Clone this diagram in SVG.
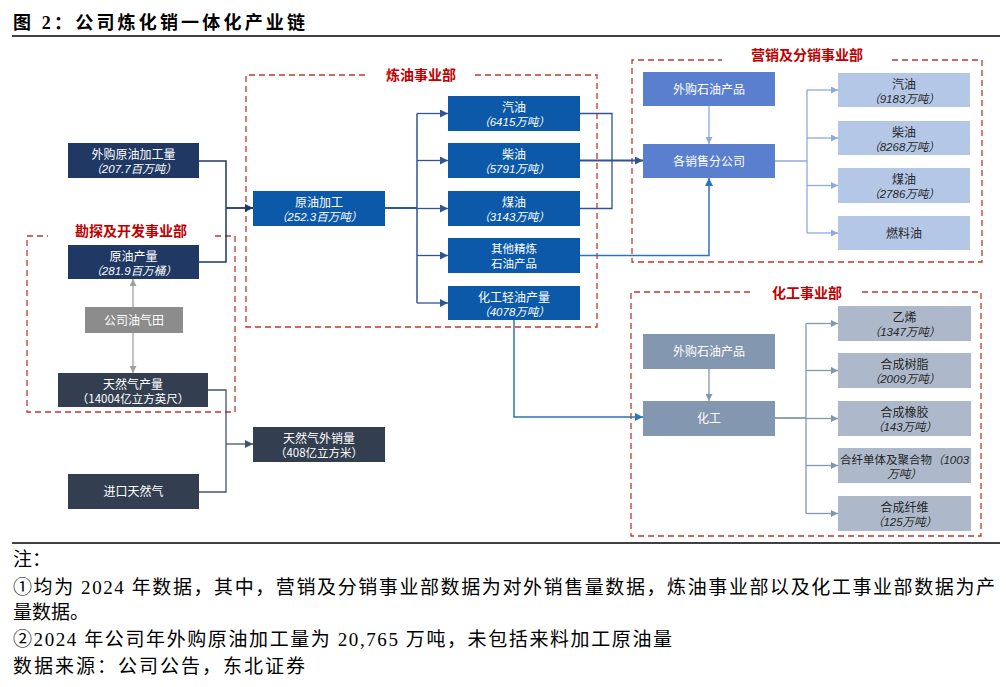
<svg xmlns="http://www.w3.org/2000/svg" width="1006" height="687" viewBox="0 0 1006 687">
<defs>
<style>
.t{font-family:"Noto Sans CJK SC","Liberation Sans",sans-serif;font-size:12px;text-anchor:middle;fill:#fff}
.n{font-family:"Liberation Sans","Noto Sans CJK SC",sans-serif;font-size:11.5px;font-style:italic;text-anchor:middle;fill:#fff}
.d{fill:#262626}
.sec{font-family:"Noto Sans CJK SC",sans-serif;font-size:14px;font-weight:bold;fill:#C00000;text-anchor:middle}
.dash{fill:none;stroke:#C0392B;stroke-width:1.3;stroke-dasharray:6,4}
.note{font-family:"Liberation Serif","Noto Sans CJK SC",serif;font-size:19px;fill:#000}
.navy{fill:#203864}.slate{fill:#333F50}.gray{fill:#8C8C8C}.blue{fill:#0C59A9}
.mk{fill:#5B7FCF}.lb{fill:#B4C7E7}.cg{fill:#8497B0}.cl{fill:#ADB9CA}
#connectors path{fill:none}
</style>
<marker id="a-navy" viewBox="0 0 10 10" refX="10" refY="5" markerWidth="8" markerHeight="8" markerUnits="userSpaceOnUse" orient="auto"><path d="M0,0 L10,5 L0,10 z" fill="#203864"/></marker>
<marker id="a-gray" viewBox="0 0 10 10" refX="10" refY="5" markerWidth="7" markerHeight="7" markerUnits="userSpaceOnUse" orient="auto"><path d="M0,0 L10,5 L0,10 z" fill="#A0A0A0"/></marker>
<marker id="a-slate" viewBox="0 0 10 10" refX="10" refY="5" markerWidth="8" markerHeight="8" markerUnits="userSpaceOnUse" orient="auto"><path d="M0,0 L10,5 L0,10 z" fill="#44546A"/></marker>
<marker id="a-blue" viewBox="0 0 10 10" refX="10" refY="5" markerWidth="8" markerHeight="8" markerUnits="userSpaceOnUse" orient="auto"><path d="M0,0 L10,5 L0,10 z" fill="#2F5597"/></marker>
<marker id="a-mid" viewBox="0 0 10 10" refX="10" refY="5" markerWidth="8" markerHeight="8" markerUnits="userSpaceOnUse" orient="auto"><path d="M0,0 L10,5 L0,10 z" fill="#2E75B6"/></marker>
<marker id="a-light" viewBox="0 0 10 10" refX="10" refY="5" markerWidth="7" markerHeight="7" markerUnits="userSpaceOnUse" orient="auto"><path d="M0,0 L10,5 L0,10 z" fill="#8FAADC"/></marker>
<marker id="a-chem" viewBox="0 0 10 10" refX="10" refY="5" markerWidth="7" markerHeight="7" markerUnits="userSpaceOnUse" orient="auto"><path d="M0,0 L10,5 L0,10 z" fill="#8497B0"/></marker>
</defs>
<rect width="1006" height="687" fill="#fff"/>

<!-- title -->
<text x="13" y="29" font-family="'Liberation Serif','Noto Sans CJK SC',serif" font-size="18" font-weight="bold" textLength="292" lengthAdjust="spacing">图 2：公司炼化销一体化产业链</text>
<line x1="12" y1="36" x2="1000" y2="36" stroke="#000" stroke-width="1.5"/>

<!-- department frames -->
<g id="dept-exploration">
<path class="dash" d="M215,236 H235 V412 H27 V236 H48"/>
<text class="sec" x="131" y="236">勘探及开发事业部</text>
</g>
<g id="dept-refining">
<path class="dash" d="M475,75 H597 V327 H246 V75 H367"/>
<text class="sec" x="421" y="80">炼油事业部</text>
</g>
<g id="dept-marketing">
<path class="dash" d="M892,60 H982 V262 H632 V60 H722"/>
<text class="sec" x="807" y="60">营销及分销事业部</text>
</g>
<g id="dept-chemical">
<path class="dash" d="M862,292 H981 V536 H631 V292 H751"/>
<text class="sec" x="807" y="298">化工事业部</text>
</g>

<!-- connectors -->
<g id="connectors">
<path d="M199,161 H226 V262 H199" stroke="#203864" stroke-width="1.5"/>
<path d="M226,208 H253" stroke="#203864" stroke-width="1.8" marker-end="url(#a-navy)"/>
<path d="M133,307 V279" stroke="#A0A0A0" stroke-width="1.3" marker-end="url(#a-gray)"/>
<path d="M133,333 V373" stroke="#A0A0A0" stroke-width="1.3" marker-end="url(#a-gray)"/>
<path d="M208,390 H226 V492 H199" stroke="#44546A" stroke-width="1.3"/>
<path d="M226,444 H253" stroke="#44546A" stroke-width="1.3" marker-end="url(#a-slate)"/>
<path d="M385,208 H417" stroke="#2F5597" stroke-width="2"/>
<path d="M417,113.5 V303" stroke="#2F5597" stroke-width="1.5"/>
<path d="M417,113.5 H448" stroke="#2F5597" stroke-width="1.3" marker-end="url(#a-blue)"/>
<path d="M417,160.5 H448" stroke="#2F5597" stroke-width="1.3" marker-end="url(#a-blue)"/>
<path d="M417,208.5 H448" stroke="#2F5597" stroke-width="1.3" marker-end="url(#a-blue)"/>
<path d="M417,255.5 H448" stroke="#2F5597" stroke-width="1.3" marker-end="url(#a-blue)"/>
<path d="M417,303 H448" stroke="#2F5597" stroke-width="1.3" marker-end="url(#a-blue)"/>
<path d="M580,113.5 H612 V208.5 H580" stroke="#2F5597" stroke-width="1.3"/>
<path d="M580,160.5 H643" stroke="#2F5597" stroke-width="2" marker-end="url(#a-blue)"/>
<path d="M580,255.5 H709 V178" stroke="#2E75B6" stroke-width="1.5" marker-end="url(#a-mid)"/>
<path d="M709,106 V144" stroke="#8FAADC" stroke-width="1.3" marker-end="url(#a-light)"/>
<path d="M775,161 H807" stroke="#8FAADC" stroke-width="1.5"/>
<path d="M807,90 V233" stroke="#8FAADC" stroke-width="1.3"/>
<path d="M807,90 H838" stroke="#8FAADC" stroke-width="1.3" marker-end="url(#a-light)"/>
<path d="M807,138 H838" stroke="#8FAADC" stroke-width="1.3" marker-end="url(#a-light)"/>
<path d="M807,185.5 H838" stroke="#8FAADC" stroke-width="1.3" marker-end="url(#a-light)"/>
<path d="M807,233 H838" stroke="#8FAADC" stroke-width="1.3" marker-end="url(#a-light)"/>
<path d="M514,320 V417 H643" stroke="#2E75B6" stroke-width="1.5" marker-end="url(#a-mid)"/>
<path d="M709,369 V401" stroke="#8497B0" stroke-width="1.3" marker-end="url(#a-chem)"/>
<path d="M775,418 H806" stroke="#8497B0" stroke-width="1.8"/>
<path d="M806,323.5 V513.5" stroke="#8497B0" stroke-width="1.3"/>
<path d="M806,323.5 H838" stroke="#8497B0" stroke-width="1.3" marker-end="url(#a-chem)"/>
<path d="M806,370.5 H838" stroke="#8497B0" stroke-width="1.3" marker-end="url(#a-chem)"/>
<path d="M806,418.5 H838" stroke="#8497B0" stroke-width="1.3" marker-end="url(#a-chem)"/>
<path d="M806,465.5 H838" stroke="#8497B0" stroke-width="1.3" marker-end="url(#a-chem)"/>
<path d="M806,513.5 H838" stroke="#8497B0" stroke-width="1.3" marker-end="url(#a-chem)"/>
</g>

<!-- left nodes -->
<g id="n-purchased-crude"><rect class="navy" x="68" y="143" width="131" height="35"/><text class="t" x="133.5" y="159">外购原油加工量</text><text class="n" x="133.5" y="173">（207.7百万吨）</text></g>
<g id="n-crude-output"><rect class="navy" x="68" y="245" width="131" height="34"/><text class="t" x="133.5" y="261">原油产量</text><text class="n" x="133.5" y="275">（281.9百万桶）</text></g>
<g id="n-oilfield"><rect class="gray" x="85" y="307" width="98" height="26"/><text class="t" x="134" y="324.5">公司油气田</text></g>
<g id="n-gas-output"><rect class="slate" x="58" y="373" width="150" height="34"/><text class="t" x="133" y="389">天然气产量</text><text class="t" x="133" y="403" style="font-size:11.5px">（14004亿立方英尺）</text></g>
<g id="n-gas-import"><rect class="slate" x="68" y="474" width="131" height="35"/><text class="t" x="133.5" y="496">进口天然气</text></g>
<g id="n-gas-sales"><rect class="slate" x="253" y="427" width="132" height="35"/><text class="t" x="319" y="443">天然气外销量</text><text class="t" x="319" y="457" style="font-size:11.5px">（408亿立方米）</text></g>

<!-- refining -->
<g id="n-crude-processing"><rect class="blue" x="253" y="191" width="132" height="35"/><text class="t" x="319" y="207">原油加工</text><text class="n" x="319" y="221">（252.3百万吨）</text></g>
<g id="n-ref-gasoline"><rect class="blue" x="448" y="96" width="132" height="35"/><text class="t" x="514" y="112">汽油</text><text class="n" x="514" y="126">（6415万吨）</text></g>
<g id="n-ref-diesel"><rect class="blue" x="448" y="143" width="132" height="35"/><text class="t" x="514" y="159">柴油</text><text class="n" x="514" y="173">（5791万吨）</text></g>
<g id="n-ref-kerosene"><rect class="blue" x="448" y="191" width="132" height="35"/><text class="t" x="514" y="207">煤油</text><text class="n" x="514" y="221">（3143万吨）</text></g>
<g id="n-ref-other"><rect class="blue" x="448" y="238" width="132" height="35"/><text class="t" x="514" y="253" style="font-size:11.5px">其他精炼</text><text class="t" x="514" y="268" style="font-size:11.5px">石油产品</text></g>
<g id="n-ref-naphtha"><rect class="blue" x="448" y="286" width="132" height="34"/><text class="t" x="514" y="302">化工轻油产量</text><text class="n" x="514" y="316">（4078万吨）</text></g>

<!-- marketing -->
<g id="n-mkt-purchased"><rect class="mk" x="643" y="72" width="132" height="34"/><text class="t" x="709" y="93.5">外购石油产品</text></g>
<g id="n-mkt-branches"><rect class="mk" x="643" y="144" width="132" height="34"/><text class="t" x="709" y="165.5">各销售分公司</text></g>
<g id="n-mkt-gasoline"><rect class="lb" x="838" y="73" width="132" height="34"/><text class="t d" x="904" y="89">汽油</text><text class="n d" x="904" y="103">（9183万吨）</text></g>
<g id="n-mkt-diesel"><rect class="lb" x="838" y="121" width="132" height="34"/><text class="t d" x="904" y="137">柴油</text><text class="n d" x="904" y="151">（8268万吨）</text></g>
<g id="n-mkt-kerosene"><rect class="lb" x="838" y="168" width="132" height="35"/><text class="t d" x="904" y="184">煤油</text><text class="n d" x="904" y="198">（2786万吨）</text></g>
<g id="n-mkt-fueloil"><rect class="lb" x="838" y="216" width="132" height="34"/><text class="t d" x="904" y="237.5">燃料油</text></g>

<!-- chemical -->
<g id="n-chem-purchased"><rect class="cg" x="643" y="334" width="132" height="35"/><text class="t" x="709" y="356">外购石油产品</text></g>
<g id="n-chem"><rect class="cg" x="643" y="401" width="132" height="35"/><text class="t" x="709" y="423">化工</text></g>
<g id="n-chem-ethylene"><rect class="cl" x="838" y="306" width="133" height="35"/><text class="t d" x="904.5" y="322">乙烯</text><text class="n d" x="904.5" y="336">（1347万吨）</text></g>
<g id="n-chem-resin"><rect class="cl" x="838" y="353" width="133" height="35"/><text class="t d" x="904.5" y="369">合成树脂</text><text class="n d" x="904.5" y="383">（2009万吨）</text></g>
<g id="n-chem-rubber"><rect class="cl" x="838" y="401" width="133" height="35"/><text class="t d" x="904.5" y="417">合成橡胶</text><text class="n d" x="904.5" y="431">（143万吨）</text></g>
<g id="n-chem-monomer"><rect class="cl" x="838" y="448" width="133" height="35"/><text class="t d" x="904.5" y="464" style="font-size:11.5px">合纤单体及聚合物<tspan style="font-family:'Liberation Sans','Noto Sans CJK SC',sans-serif;font-style:italic">（1003</tspan></text><text class="n d" x="904.5" y="478">万吨）</text></g>
<g id="n-chem-fiber"><rect class="cl" x="838" y="496" width="133" height="35"/><text class="t d" x="904.5" y="512">合成纤维</text><text class="n d" x="904.5" y="526">（125万吨）</text></g>

<!-- notes -->
<line x1="12" y1="543" x2="1000" y2="543" stroke="#000" stroke-width="1.3"/>
<text class="note" x="13" y="566">注：</text>
<text class="note" x="13" y="594" textLength="982" lengthAdjust="spacing">①均为 2024 年数据，其中，营销及分销事业部数据为对外销售量数据，炼油事业部以及化工事业部数据为产</text>
<text class="note" x="13" y="619">量数据。</text>
<text class="note" x="13" y="646" textLength="659" lengthAdjust="spacing">②2024 年公司年外购原油加工量为 20,765 万吨，未包括来料加工原油量</text>
<text class="note" x="13" y="673" textLength="292" lengthAdjust="spacing">数据来源：公司公告，东北证券</text>
</svg>
